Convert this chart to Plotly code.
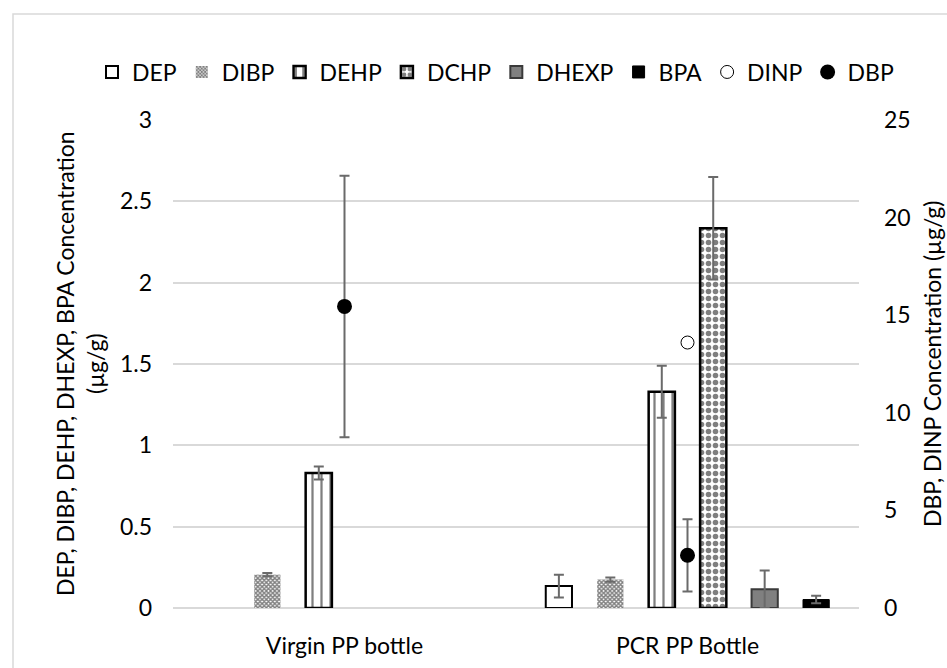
import plotly.graph_objects as go

# Sample groups on the shared category axis
groups = ["Virgin PP bottle", "PCR PP Bottle"]

# Left-axis compounds (µg/g): mean and standard deviation per group
dep = [None, 0.135]
dep_sd = [None, 0.070]
dibp = [0.205, 0.175]
dibp_sd = [0.010, 0.013]
dehp = [0.830, 1.330]
dehp_sd = [0.040, 0.160]
dchp = [None, 2.335]
dchp_sd = [None, 0.315]
dhexp = [None, 0.115]
dhexp_sd = [None, 0.115]
bpa = [None, 0.052]
bpa_sd = [None, 0.023]

# Right-axis compounds (µg/g)
dinp = [None, 13.6]
dbp = [15.45, 2.70]
dbp_sd = [6.70, 1.85]

# Axis ticks
left_ticks = [0, 0.5, 1, 1.5, 2, 2.5, 3]
left_ticktext = ["0", "0.5", "1", "1.5", "2", "2.5", "3"]
right_ticks = [0, 5, 10, 15, 20, 25]

FONT = "Lato"
ERR_COLOR = "#6a6a6a"


def err(sd):
    return dict(type="data", array=sd, visible=True, color=ERR_COLOR,
                thickness=2, width=5)


fig = go.Figure()

fig.add_trace(go.Bar(
    name="DEP", x=groups, y=dep, error_y=err(dep_sd),
    marker=dict(color="white", line=dict(color="black", width=2)),
))
fig.add_trace(go.Bar(
    name="DIBP", x=groups, y=dibp, error_y=err(dibp_sd),
    marker=dict(color="white", line=dict(color="#555555", width=0),
                pattern=dict(shape="x", fgcolor="black", bgcolor="white",
                             size=3, solidity=0.7)),
))
fig.add_trace(go.Bar(
    name="DEHP", x=groups, y=dehp, error_y=err(dehp_sd),
    marker=dict(color="white", line=dict(color="black", width=2.5),
                pattern=dict(shape="|", fgcolor="black", bgcolor="white",
                             size=9, solidity=0.25)),
))
fig.add_trace(go.Bar(
    name="DCHP", x=groups, y=dchp, error_y=err(dchp_sd),
    marker=dict(color="white", line=dict(color="black", width=2.5),
                pattern=dict(shape=".", fgcolor="black", bgcolor="white",
                             size=7, solidity=0.5)),
))
fig.add_trace(go.Bar(
    name="DHEXP", x=groups, y=dhexp, error_y=err(dhexp_sd),
    marker=dict(color="#808080", line=dict(color="#3a3a3a", width=2)),
))
fig.add_trace(go.Bar(
    name="BPA", x=groups, y=bpa, error_y=err(bpa_sd),
    marker=dict(color="black", line=dict(color="black", width=1)),
))

fig.add_trace(go.Scatter(
    name="DINP", x=groups, y=dinp, yaxis="y2", mode="markers",
    marker=dict(symbol="circle", size=13, color="white",
                line=dict(color="black", width=1)),
))
fig.add_trace(go.Scatter(
    name="DBP", x=groups, y=dbp, yaxis="y2", mode="markers",
    error_y=err(dbp_sd),
    marker=dict(symbol="circle", size=15, color="black"),
))

W, H = 947, 668
L, R, T, B = 173, 88, 120, 60
pw = W - L - R
ph = H - T - B


def px_x(x):
    return (x - L) / pw


def px_y(y):
    return (H - B - y) / ph


fig.update_layout(
    width=W, height=H,
    margin=dict(l=L, r=R, t=T, b=B, autoexpand=False),
    paper_bgcolor="white", plot_bgcolor="white",
    font=dict(family=FONT, size=23, color="black"),
    barmode="group", bargap=0.10, bargroupgap=0.49,
    showlegend=True,
    legend=dict(orientation="h", x=px_x(92), xanchor="left",
                y=px_y(72), yanchor="middle",
                font=dict(family=FONT, size=23, color="black"),
                itemwidth=30, traceorder="normal",
                bgcolor="rgba(0,0,0,0)"),
    xaxis=dict(type="category", showgrid=False, zeroline=False,
               showline=False, ticks="", ticklabelstandoff=22,
               tickfont=dict(size=23)),
    yaxis=dict(range=[0, 3], tickvals=left_ticks, ticktext=left_ticktext,
               showgrid=True, gridcolor="#d9d9d9", gridwidth=1.5,
               zeroline=True, zerolinecolor="#d9d9d9", zerolinewidth=1.5,
               showline=False, ticks="", ticklabelstandoff=20,
               tickfont=dict(size=23)),
    yaxis2=dict(range=[0, 25], tickvals=right_ticks, overlaying="y",
                side="right", showgrid=False, zeroline=False,
                showline=False, ticks="", ticklabelstandoff=24,
                tickfont=dict(size=23)),
    shapes=[dict(type="rect", xref="paper", yref="paper",
                 x0=px_x(13), x1=px_x(1000), y0=px_y(720), y1=px_y(14),
                 line=dict(color="#d9d9d9", width=1.5),
                 fillcolor="rgba(0,0,0,0)", layer="below")],
    annotations=[
        dict(text="DEP, DIBP, DEHP, DHEXP, BPA Concentration<br>(µg/g)",
             xref="paper", yref="paper", x=px_x(80), y=0.5,
             xanchor="center", yanchor="middle", textangle=-90,
             showarrow=False, font=dict(family=FONT, size=23)),
        dict(text="DBP, DINP Concentration (µg/g)",
             xref="paper", yref="paper", x=px_x(932), y=0.5,
             xanchor="center", yanchor="middle", textangle=-90,
             showarrow=False, font=dict(family=FONT, size=23)),
    ],
)

fig.write_html("out.html")
